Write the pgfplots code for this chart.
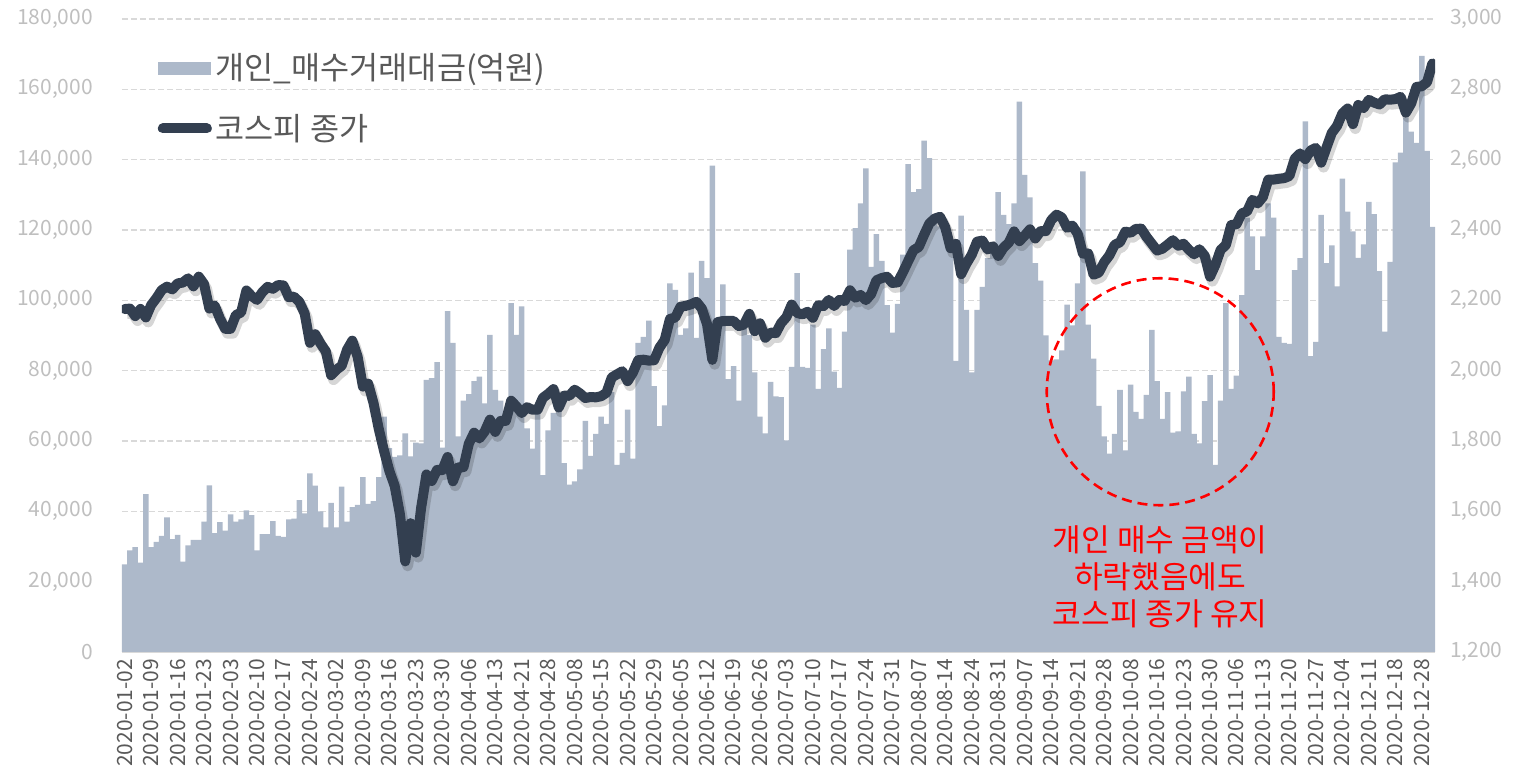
\documentclass[border=0pt]{standalone}
\usepackage{fontspec}
\setmainfont{Noto Sans CJK KR}
\usepackage{pgfplots}
\usepackage{pgfplotstable}
\pgfplotsset{compat=1.18}

\definecolor{barc}{HTML}{ADB9CA}
\definecolor{linec}{HTML}{333F50}
\definecolor{gridc}{HTML}{D9D9D9}
\definecolor{tickc}{HTML}{BFBFBF}
\definecolor{labc}{HTML}{595959}

% i = trading day, buy = individual buying (100M KRW), kospi = close
\pgfplotstableread{
i buy kospi
0 24900 2175.17
1 28900 2176.46
2 29800 2155.07
3 25400 2175.54
4 44900 2151.31
5 29800 2186.45
6 31300 2206.39
7 33000 2229.26
8 38300 2238.88
9 32100 2230.98
10 33300 2248.05
11 25700 2250.57
12 30300 2262.64
13 31900 2239.69
14 31900 2267.25
15 37100 2246.13
16 47400 2176.72
17 33800 2185.28
18 36900 2148.00
19 34500 2119.01
20 39100 2118.88
21 37100 2157.90
22 37700 2165.63
23 40300 2227.94
24 38900 2211.95
25 28900 2201.07
26 33500 2223.12
27 33500 2238.38
28 37200 2232.76
29 33000 2243.59
30 32700 2242.17
31 37700 2208.88
32 37900 2210.34
33 43200 2195.50
34 39400 2162.84
35 50800 2079.04
36 47300 2103.61
37 40000 2076.77
38 35400 2054.89
39 42400 1987.01
40 35400 2002.51
41 47000 2014.15
42 37100 2059.33
43 41200 2085.26
44 41800 2040.22
45 49700 1954.77
46 42100 1962.93
47 42900 1908.27
48 49700 1834.33
49 66900 1771.44
50 58000 1714.86
51 55500 1672.44
52 55900 1591.20
53 62200 1457.64
54 55600 1566.15
55 59500 1482.46
56 59300 1609.97
57 77400 1704.76
58 77900 1686.24
59 82400 1717.73
60 58100 1717.12
61 96900 1754.64
62 87900 1685.46
63 61300 1724.86
64 71500 1725.44
65 73300 1791.88
66 77000 1823.60
67 78300 1807.14
68 70700 1826.94
69 90200 1860.70
70 74500 1825.76
71 71500 1857.08
72 66000 1857.07
73 99200 1914.53
74 90200 1898.36
75 98300 1879.38
76 63600 1896.06
77 57800 1889.01
78 68000 1889.01
79 50300 1922.77
80 63000 1934.08
81 68000 1947.56
82 70000 1895.37
83 53700 1928.76
84 47600 1928.61
85 48500 1945.82
86 51900 1935.40
87 65700 1922.17
88 55800 1924.96
89 62000 1924.13
90 66900 1927.28
91 64900 1937.11
92 73900 1980.61
93 53200 1989.64
94 56600 1998.31
95 68900 1970.13
96 55000 1994.60
97 87900 2029.78
98 89600 2031.20
99 94200 2028.54
100 75600 2029.60
101 64200 2065.08
102 70100 2087.19
103 104800 2147.00
104 103000 2151.18
105 90200 2181.87
106 92000 2184.29
107 107900 2188.92
108 89300 2195.69
109 111200 2176.78
110 106300 2132.30
111 138300 2030.82
112 92000 2138.05
113 104500 2141.05
114 77600 2141.32
115 81300 2141.32
116 71500 2126.73
117 92000 2131.24
118 90200 2161.51
119 79500 2112.37
120 66900 2134.65
121 62200 2093.48
122 76800 2108.33
123 72700 2106.70
124 72500 2135.37
125 60200 2152.41
126 81100 2187.93
127 107700 2164.17
128 81100 2159.93
129 80800 2167.48
130 93100 2150.25
131 74800 2186.06
132 86100 2183.61
133 92000 2201.19
134 79700 2183.76
135 75100 2201.19
136 91100 2198.20
137 114400 2228.66
138 120500 2207.44
139 127600 2215.32
140 137500 2200.44
141 109500 2217.86
142 118800 2256.99
143 111200 2263.31
144 98600 2267.01
145 90800 2249.37
146 99000 2251.04
147 113000 2279.97
148 138700 2311.86
149 130800 2342.61
150 131600 2351.67
151 145400 2386.38
152 140400 2418.67
153 122000 2432.35
154 121000 2437.53
155 118000 2407.49
156 114000 2348.24
157 82800 2360.54
158 124100 2274.22
159 97300 2304.59
160 79500 2329.83
161 97300 2366.73
162 103800 2369.86
163 112000 2344.45
164 115000 2353.80
165 130800 2326.17
166 124300 2349.55
167 121700 2364.24
168 127600 2395.90
169 156500 2368.25
170 135700 2384.22
171 129300 2401.91
172 110600 2375.81
173 105600 2396.48
174 90000 2396.69
175 82900 2427.92
176 83200 2443.58
177 85800 2435.92
178 98800 2406.17
179 92900 2412.40
180 104800 2389.35
181 136700 2332.59
182 93100 2333.24
183 83400 2272.70
184 70000 2278.79
185 61300 2308.08
186 56400 2327.89
187 62000 2358.00
188 74500 2365.07
189 57300 2395.40
190 76000 2391.96
191 68300 2403.15
192 66300 2403.73
193 73100 2380.48
194 91600 2361.21
195 77000 2341.53
196 66300 2346.74
197 73900 2358.41
198 62400 2370.86
199 62700 2355.08
200 74100 2360.81
201 78300 2343.91
202 62000 2330.84
203 59300 2345.26
204 71300 2326.67
205 78700 2267.15
206 53200 2300.16
207 71500 2343.31
208 99200 2357.32
209 74800 2413.79
210 78600 2416.50
211 101500 2447.20
212 123500 2452.83
213 118200 2485.87
214 108600 2475.62
215 118200 2493.87
216 127600 2543.03
217 123500 2543.35
218 89600 2545.64
219 87900 2547.42
220 87600 2553.50
221 108600 2602.59
222 112000 2617.76
223 150900 2601.54
224 84100 2625.91
225 88200 2633.45
226 124300 2591.34
227 110600 2634.25
228 115600 2675.90
229 104000 2696.22
230 134600 2731.45
231 125200 2745.44
232 119600 2700.93
233 112100 2755.47
234 115900 2746.46
235 128000 2770.06
236 124500 2762.20
237 108300 2756.82
238 91100 2771.79
239 110900 2770.43
240 139200 2772.18
241 142000 2778.65
242 152000 2733.68
243 148000 2759.82
244 144800 2806.86
245 169500 2808.60
246 142500 2820.51
247 120900 2873.47
}\daily

\pgfplotsset{
  base/.style={
    at={(0,0)}, anchor=south west,
    scale only axis, width=656.5pt, height=316.5pt,
    xmin=-0.5, xmax=247.5,
    scaled y ticks=false,
    yticklabel style={/pgf/number format/fixed, /pgf/number format/assume math mode=true},
    tick style={draw=none},
    y axis line style={draw=none},
  }
}

\begin{document}
\begin{tikzpicture}
\begin{axis}[
  base,
  ymin=0, ymax=180000,
  ytick={0,20000,40000,60000,80000,100000,120000,140000,160000,180000},
  axis x line*=bottom, axis y line*=left,
  x axis line style={draw=gridc, line width=0.8pt},
  ymajorgrids,
  grid style={draw=gridc, line width=0.6pt, dash pattern=on 3pt off 1.5pt},
  yticklabel style={font=\fontsize{10.5}{12}\selectfont, text=tickc, xshift=-11pt},
  xtick={0,5,...,245},
  xticklabels={2020-01-02,2020-01-09,2020-01-16,2020-01-23,2020-02-03,2020-02-10,2020-02-17,2020-02-24,2020-03-02,2020-03-09,2020-03-16,2020-03-23,2020-03-30,2020-04-06,2020-04-13,2020-04-21,2020-04-28,2020-05-08,2020-05-15,2020-05-22,2020-05-29,2020-06-05,2020-06-12,2020-06-19,2020-06-26,2020-07-03,2020-07-10,2020-07-17,2020-07-24,2020-07-31,2020-08-07,2020-08-14,2020-08-24,2020-08-31,2020-09-07,2020-09-14,2020-09-21,2020-09-28,2020-10-08,2020-10-16,2020-10-23,2020-10-30,2020-11-06,2020-11-13,2020-11-20,2020-11-27,2020-12-04,2020-12-11,2020-12-18,2020-12-28},
  xticklabel style={font=\fontsize{10.5}{12}\selectfont, text=labc, rotate=90, anchor=east},
  legend style={at={(rel axis cs:0.027,0.952)}, anchor=north west, draw=none, fill=none,
    font=\fontsize{15.8}{18}\selectfont, text=labc, row sep=11.5pt, inner sep=0pt},
  legend cell align=left,
]
\addplot[ybar, bar width=1.04, bar shift=0pt, fill=barc, draw=none,
  legend image code/.code={\fill[barc] (0pt,-3.25pt) rectangle (26.5pt,3.25pt);}]
  table[x=i, y=buy] {\daily};
\addlegendentry{개인\textunderscore 매수거래대금(억원)}
\addlegendimage{legend image code/.code={\draw[linec, line width=5pt, line cap=round] (2.5pt,0pt) -- (24.5pt,0pt);}}
\addlegendentry{코스피 종가}
\end{axis}

\begin{axis}[
  base,
  ymin=1200, ymax=3000,
  ytick={1200,1400,1600,1800,2000,2200,2400,2600,2800,3000},
  axis y line*=right, axis x line=none,
  xtick=\empty,
  yticklabel style={font=\fontsize{10.5}{12}\selectfont, text=tickc, xshift=4pt},
]
\addplot[draw=black, opacity=0.16, line width=5.5pt, line join=round, xshift=1.2pt, yshift=-2.2pt]
  table[x=i, y=kospi] {\daily};
\addplot[draw=linec, line width=5pt, line join=round, line cap=round]
  table[x=i, y=kospi] {\daily};
\draw[red, line width=1.3pt, dash pattern=on 5pt off 3pt] (axis cs:195.6,1940) circle[radius=56.75pt];
\node[text=red, align=center, font=\fontsize{15.6}{18.5}\selectfont] at (axis cs:195.6,1413) {개인 매수 금액이\\하락했음에도\\코스피 종가 유지};
\end{axis}

\pgfresetboundingbox
\path[use as bounding box] (-61pt,-63.5pt) rectangle (699.5pt,326pt);
\end{tikzpicture}
\end{document}
